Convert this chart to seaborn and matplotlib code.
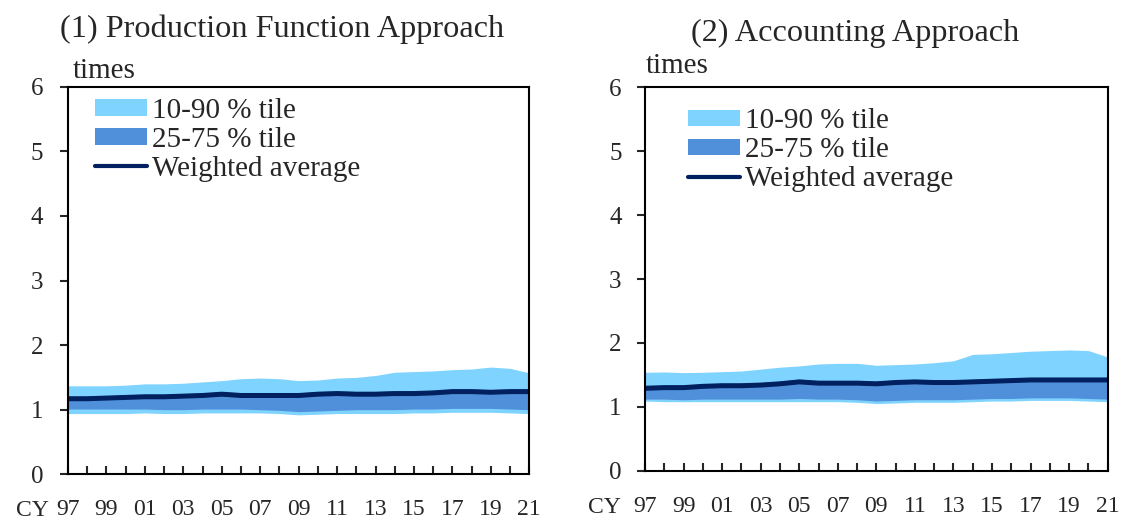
import numpy as np
import pandas as pd
import seaborn as sns
import matplotlib

matplotlib.use("agg")

import matplotlib.pyplot as plt
from matplotlib.patches import Patch
from matplotlib.lines import Line2D

# Fiscal data, 1997-2021
years = list(range(1997, 2022))
tick_years = list(range(1997, 2022, 2))
tick_labels = [f"{y % 100:02d}" for y in tick_years]

# (1) Production Function Approach
pf_p10 = [0.94, 0.94, 0.94, 0.94, 0.95, 0.94, 0.94, 0.95, 0.95, 0.95, 0.95, 0.94, 0.92,
          0.93, 0.94, 0.94, 0.94, 0.94, 0.95, 0.95, 0.96, 0.96, 0.96, 0.95, 0.94]
pf_p25 = [1.01, 1.01, 1.01, 1.01, 1.01, 1.00, 1.00, 1.01, 1.01, 1.01, 1.00, 0.99, 0.97,
          0.98, 0.99, 1.00, 1.00, 1.00, 1.01, 1.01, 1.02, 1.02, 1.02, 1.01, 1.00]
pf_p75 = [1.20, 1.21, 1.21, 1.23, 1.24, 1.24, 1.25, 1.26, 1.28, 1.26, 1.26, 1.26, 1.26,
          1.28, 1.29, 1.28, 1.28, 1.29, 1.29, 1.30, 1.32, 1.32, 1.31, 1.32, 1.32]
pf_p90 = [1.37, 1.37, 1.37, 1.38, 1.40, 1.40, 1.41, 1.43, 1.45, 1.48, 1.49, 1.48, 1.45,
          1.46, 1.49, 1.50, 1.53, 1.58, 1.59, 1.60, 1.62, 1.63, 1.66, 1.64, 1.57]
pf_wavg = [1.17, 1.17, 1.18, 1.19, 1.20, 1.20, 1.21, 1.22, 1.24, 1.22, 1.22, 1.22, 1.22,
           1.24, 1.25, 1.24, 1.24, 1.25, 1.25, 1.26, 1.28, 1.28, 1.27, 1.28, 1.28]

# (2) Accounting Approach
ac_p10 = [1.09, 1.08, 1.08, 1.08, 1.08, 1.08, 1.08, 1.08, 1.08, 1.08, 1.08, 1.07, 1.05,
          1.06, 1.07, 1.07, 1.07, 1.08, 1.09, 1.09, 1.10, 1.10, 1.10, 1.09, 1.08]
ac_p25 = [1.12, 1.12, 1.11, 1.12, 1.12, 1.12, 1.12, 1.12, 1.13, 1.12, 1.12, 1.11, 1.09,
          1.10, 1.11, 1.11, 1.11, 1.12, 1.13, 1.13, 1.14, 1.14, 1.14, 1.13, 1.12]
ac_p75 = [1.33, 1.34, 1.34, 1.36, 1.37, 1.37, 1.38, 1.40, 1.43, 1.41, 1.41, 1.41, 1.40,
          1.42, 1.43, 1.42, 1.42, 1.43, 1.44, 1.45, 1.46, 1.46, 1.46, 1.46, 1.46]
ac_p90 = [1.54, 1.545, 1.535, 1.54, 1.55, 1.56, 1.59, 1.62, 1.64, 1.67, 1.68, 1.68, 1.65,
          1.66, 1.67, 1.69, 1.72, 1.82, 1.83, 1.85, 1.87, 1.88, 1.89, 1.88, 1.78]
ac_wavg = [1.29, 1.30, 1.30, 1.32, 1.33, 1.33, 1.34, 1.36, 1.39, 1.37, 1.37, 1.37, 1.36,
           1.38, 1.39, 1.38, 1.38, 1.39, 1.40, 1.41, 1.42, 1.42, 1.42, 1.42, 1.42]

C_OUTER = "#7fd3ff"
C_INNER = "#5090da"
C_LINE = "#002060"
W, H = 1121, 519

sns.set_style("ticks")
plt.rcParams["font.family"] = ["Liberation Serif", "DejaVu Serif"]


def draw_panel(ax, p10, p25, p75, p90, wavg, legend_anchor, ypad):
    df = pd.DataFrame({"year": years, "p10": p10, "p25": p25, "p75": p75,
                       "p90": p90, "wavg": wavg})
    ax.fill_between(df["year"], df["p10"], df["p90"], color=C_OUTER, lw=0)
    ax.fill_between(df["year"], df["p25"], df["p75"], color=C_INNER, lw=0)
    sns.lineplot(data=df, x="year", y="wavg", color=C_LINE, lw=3.6, ax=ax,
                 legend=False)

    ax.set_xlim(1997, 2021)
    ax.set_ylim(0, 6)
    ax.set_yticks(range(0, 7))
    ax.set_xticks(years, minor=True)
    ax.set_xticks(tick_years)
    ax.set_xticklabels(tick_labels)
    ax.tick_params(axis="x", which="both", direction="in", length=5.8, width=1.5,
                   labelsize=17, pad=18)
    ax.tick_params(axis="y", direction="out", length=5.8, width=1.5, labelsize=18,
                   pad=ypad)
    ax.set_xlabel("")
    ax.set_ylabel("")
    for s in ax.spines.values():
        s.set_visible(True)
        s.set_linewidth(1.5)
        s.set_color("black")

    handles = [
        Patch(facecolor=C_OUTER, edgecolor="none", label="10-90 % tile"),
        Patch(facecolor=C_INNER, edgecolor="none", label="25-75 % tile"),
        Line2D([0], [0], color=C_LINE, lw=3, label="Weighted average"),
    ]
    ax.legend(handles=handles, loc="upper left", bbox_to_anchor=legend_anchor,
              frameon=False, fontsize=21, handlelength=1.77, handleheight=0.51,
              handletextpad=0.2, labelspacing=0.1, borderaxespad=0,
              borderpad=0)


fig = plt.figure(figsize=(W / 100, H / 100), dpi=100)
ax1 = fig.add_axes([68 / W, (H - 474.3) / H, 461.3 / W, 387.6 / H])
ax2 = fig.add_axes([645 / W, (H - 470.7) / H, 462.7 / W, 383.4 / H])

draw_panel(ax1, pf_p10, pf_p25, pf_p75, pf_p90, pf_wavg, (0.0585, 0.971), 12)
draw_panel(ax2, ac_p10, ac_p25, ac_p75, ac_p90, ac_wavg, (0.093, 0.945), 11)

# panel titles, unit labels and the CY prefix of the year axis
fig.text(282.5 / W, 1 - 37 / H, "(1) Production Function Approach",
         ha="center", va="baseline", fontsize=23.2)
fig.text(854.7 / W, 1 - 41 / H, "(2) Accounting Approach",
         ha="center", va="baseline", fontsize=23.2)
fig.text(73 / W, 1 - 78 / H, "times", ha="left", va="baseline", fontsize=21)
fig.text(646 / W, 1 - 72.7 / H, "times", ha="left", va="baseline", fontsize=21)
fig.text(49 / W, 1 - 516 / H, "CY", ha="right", va="baseline", fontsize=17)
fig.text(621 / W, 1 - 513 / H, "CY", ha="right", va="baseline", fontsize=17)

fig.savefig("out.png", dpi=100)
